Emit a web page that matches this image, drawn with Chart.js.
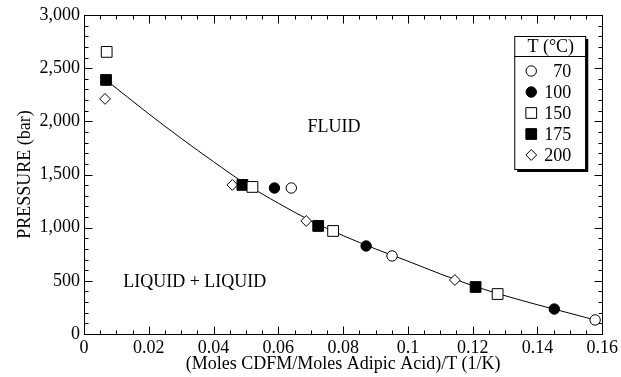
<!DOCTYPE html>
<html>
<head>
<meta charset="utf-8">
<script src="https://cdn.jsdelivr.net/npm/chart.js@4.4.0/dist/chart.umd.min.js"></script>
<style>
html,body{margin:0;padding:0;background:#fff;}
#caja{width:621px;height:377px;}
</style>
</head>
<body>
<div id="caja"><canvas id="grafico" width="621" height="377"></canvas></div>
<script>
// valores
const temperaturas=["70","100","150","175","200"];
const x70=[0.0640,0.0951,0.1578];
const y70=[1373,734,132];
const x100=[0.0588,0.0871,0.1452];
const y100=[1373,828,235];
const x150=[0.0070,0.0520,0.0769,0.1277];
const y150=[2653,1383,969,376];
const x175=[0.0068,0.0489,0.0723,0.1209];
const y175=[2389,1402,1016,442];
const x200=[0.0065,0.0458,0.0686,0.1145];
const y200=[2211,1402,1063,508];
// curva de ajuste
const xCurva=[0.0068,0.02,0.03,0.04,0.05,0.06,0.07,0.08,0.09,0.10,0.11,0.12,0.13,0.14,0.15,0.158];
const yCurva=[2389,2070,1840,1620,1410,1230,1065,925,800,685,565,455,360,275,195,130];
// rotulos de zonas
const zonas=["FLUID","LIQUID + LIQUID"];
const zonasX=[0.0772,0.0342];
const zonasY=[1947,489];

const fuente="'Liberation Serif', 'Times New Roman', serif";

function puntos(xs,ys){
        return xs.map((v,i)=>({x:v,y:ys[i]}));
}

const estilos=[
        {pointStyle:'circle',radius:5.2,fondo:'#fff'},
        {pointStyle:'circle',radius:5.2,fondo:'#000'},
        {pointStyle:'rect',radius:7.6,fondo:'#fff'},
        {pointStyle:'rect',radius:7.6,fondo:'#000'},
        {pointStyle:'rectRot',radius:5.4,fondo:'#fff'}
];
const series=[[x70,y70],[x100,y100],[x150,y150],[x175,y175],[x200,y200]];

let datasets=series.map((s,i)=>({
        label:temperaturas[i],
        data:puntos(s[0],s[1]),
        pointStyle:estilos[i].pointStyle,
        pointRadius:estilos[i].radius,
        pointBackgroundColor:estilos[i].fondo,
        pointBorderColor:'#000',
        pointBorderWidth:1,
        showLine:false,
        order:0
}));
datasets.push({
        label:'ajuste',
        data:puntos(xCurva,yCurva),
        showLine:true,
        borderColor:'#000',
        borderWidth:1,
        pointRadius:0,
        tension:0.4,
        cubicInterpolationMode:'monotone',
        order:1
});

// marco y marcas hacia adentro en los cuatro lados
const marco={
        id:'marco',
        afterDatasetsDraw(chart){
                const {ctx,chartArea:a,scales:{x,y}}=chart;
                ctx.save();
                ctx.strokeStyle='#000';
                ctx.lineWidth=1;
                const l=Math.round(a.left)+0.5, r=Math.round(a.right)+0.5;
                const t=Math.round(a.top)+0.5, b=Math.round(a.bottom)+0.5;
                ctx.strokeRect(l,t,r-l,b-t);
                ctx.beginPath();
                for(let i=0;i<=32;i++){
                        const px=Math.round(x.getPixelForValue(i*0.005))+0.5;
                        const largo=(i%4==0)?8:4;
                        ctx.moveTo(px,b); ctx.lineTo(px,b-largo);
                        ctx.moveTo(px,t); ctx.lineTo(px,t+largo);
                }
                for(let i=0;i<=30;i++){
                        const py=Math.round(y.getPixelForValue(i*100))+0.5;
                        const largo=(i%5==0)?8:4;
                        ctx.moveTo(l,py); ctx.lineTo(l+largo,py);
                        ctx.moveTo(r,py); ctx.lineTo(r-largo,py);
                }
                ctx.stroke();
                // rotulos de zonas
                ctx.fillStyle='#000';
                ctx.font="18px "+fuente;
                ctx.textAlign='center';
                ctx.textBaseline='middle';
                for(let i=0;i<zonas.length;i++){
                        ctx.fillText(zonas[i],x.getPixelForValue(zonasX[i]),y.getPixelForValue(zonasY[i]));
                }
                ctx.restore();
        }
};

// leyenda con recuadro y sombra
const leyenda={
        id:'leyenda',
        afterDraw(chart){
                const {ctx,chartArea:a}=chart;
                const izq=a.right-88, der=a.right-17, arr=a.top+21, aba=a.top+154;
                ctx.save();
                ctx.fillStyle='#000';
                ctx.fillRect(izq+3,arr+3,der-izq,aba-arr);
                ctx.fillStyle='#fff';
                ctx.fillRect(izq,arr,der-izq,aba-arr);
                ctx.strokeStyle='#000';
                ctx.lineWidth=1;
                ctx.strokeRect(izq+0.5,arr+0.5,der-izq,aba-arr);
                ctx.beginPath();
                ctx.moveTo(izq,arr+20.5); ctx.lineTo(der,arr+20.5);
                ctx.stroke();
                ctx.fillStyle='#000';
                ctx.font="18px "+fuente;
                ctx.textAlign='center';
                ctx.textBaseline='middle';
                ctx.fillText('T (°C)',(izq+der)/2+1,arr+11);
                ctx.textAlign='right';
                for(let i=0;i<temperaturas.length;i++){
                        const yy=arr+35+i*21;
                        const ds=chart.data.datasets[i];
                        ctx.fillStyle=ds.pointBackgroundColor;
                        ctx.strokeStyle='#000';
                        Chart.helpers.drawPoint(ctx,{pointStyle:ds.pointStyle,radius:ds.pointRadius,rotation:0,borderWidth:1},izq+17,yy);
                        ctx.fillStyle='#000';
                        ctx.fillText(temperaturas[i],izq+57,yy+1);
                }
                ctx.restore();
        }
};

const ctx=document.getElementById('grafico');
const grafico=new Chart(ctx,{
        type:'scatter',
        data:{datasets:datasets},
        plugins:[marco,leyenda],
        options:{
                responsive:false,
                animation:false,
                devicePixelRatio:1,
                layout:{padding:{top:15,right:17,left:0,bottom:0}},
                plugins:{legend:{display:false},tooltip:{enabled:false}},
                scales:{
                        x:{
                                type:'linear',min:0,max:0.16,
                                grid:{display:false,drawTicks:false},
                                border:{display:false},
                                ticks:{stepSize:0.02,color:'#000',padding:3,maxRotation:0,autoSkip:false,
                                        font:{family:fuente,size:18},
                                        callback:v=>String(parseFloat(v.toFixed(2)))},
                                title:{display:true,text:'(Moles CDFM/Moles Adipic Acid)/T (1/K)',color:'#000',
                                        font:{family:fuente,size:18},padding:{top:0,bottom:2}},
                                afterFit:s=>{s.height=43;}
                        },
                        y:{
                                min:0,max:3000,
                                grid:{display:false,drawTicks:false},
                                border:{display:false},
                                ticks:{stepSize:500,color:'#000',padding:4,
                                        font:{family:fuente,size:18},
                                        callback:v=>v.toLocaleString('en-US')},
                                title:{display:true,text:'PRESSURE (bar)',color:'#000',
                                        font:{family:fuente,size:18},padding:{top:14,bottom:0}},
                                afterFit:s=>{s.width=84;}
                        }
                }
        }
});
</script>
</body>
</html>
